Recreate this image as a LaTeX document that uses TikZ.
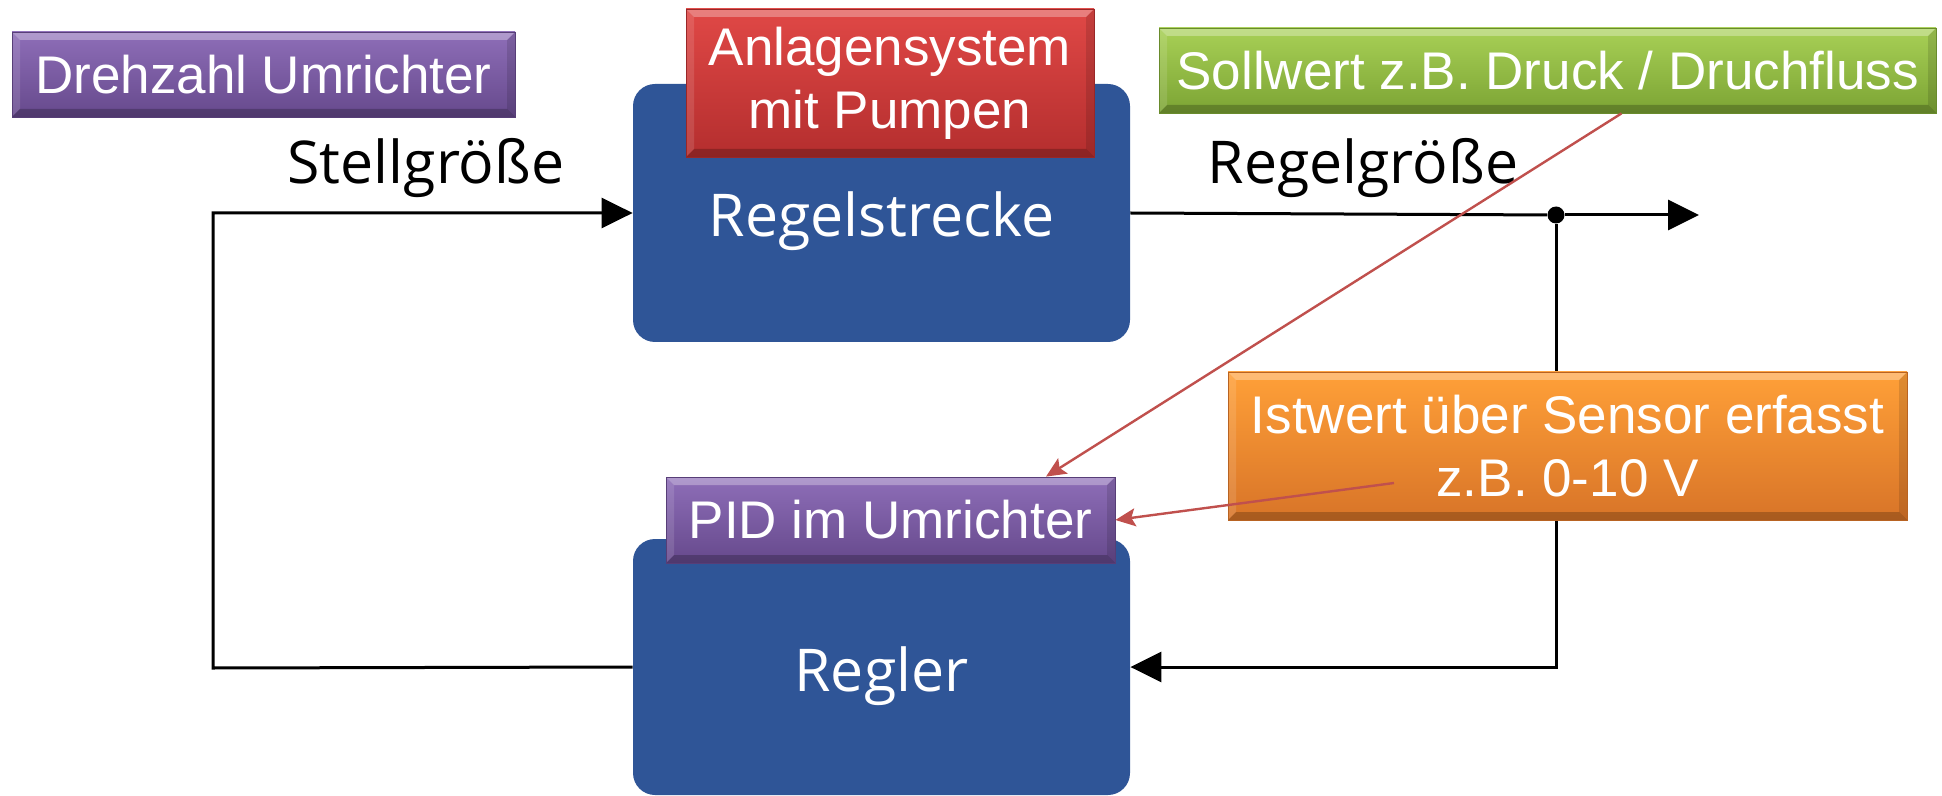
\documentclass[tikz,border=0pt]{standalone}
\usepackage{fontspec}
\setmainfont{Liberation Sans}
\newfontfamily\blockfont{Open Sans}
\usetikzlibrary{arrows.meta,calc}

\definecolor{blockblue}{RGB}{47,85,151}
\definecolor{violetT}{RGB}{142,110,184}
\definecolor{violetB}{RGB}{102,73,140}
\definecolor{redT}{RGB}{224,72,70}
\definecolor{redB}{RGB}{180,46,46}
\definecolor{greenT}{RGB}{168,208,86}
\definecolor{greenB}{RGB}{124,164,52}
\definecolor{orangeT}{RGB}{255,160,56}
\definecolor{orangeB}{RGB}{216,116,40}
\definecolor{calloutred}{RGB}{192,80,77}

\tikzset{
  block/.style={fill=blockblue, rounded corners=11pt, inner sep=0pt,
    minimum width=248.5pt, text=white, text height=24pt, text depth=0pt,
    font=\blockfont\fontsize{29.5}{34}\selectfont},
  plainlabel/.style={inner sep=0pt, anchor=base,
    font=\blockfont\fontsize{29.5}{34}\selectfont},
  % bevelled label box: light upper rim, darker lower rim
  tag/.style 2 args={top color=#1, bottom color=#2, draw=#2!85!black,
    line width=0.4pt, inner sep=0pt, text=white, align=center,
    font=\fontsize{26.5}{31.5}\selectfont,
    path picture={
      \coordinate (tl) at (path picture bounding box.north west);
      \coordinate (br) at (path picture bounding box.south east);
      \coordinate (tr) at (br |- tl);
      \coordinate (bl) at (tl |- br);
      \fill[white,opacity=0.30] (tl) -- (tr) -- ([shift={(-4pt,-4pt)}]tr)
        -- ([shift={(4pt,-4pt)}]tl) -- cycle;
      \fill[white,opacity=0.12] (tl) -- ([shift={(4pt,-4pt)}]tl)
        -- ([shift={(4pt,4pt)}]bl) -- (bl) -- cycle;
      \fill[black,opacity=0.12] (tr) -- ([shift={(-4pt,-4pt)}]tr)
        -- ([shift={(-4pt,4pt)}]br) -- (br) -- cycle;
      \fill[black,opacity=0.22] (bl) -- ([shift={(4pt,4pt)}]bl)
        -- ([shift={(-4pt,4pt)}]br) -- (br) -- cycle;
    }},
  flow/.style={line width=1.5pt, -{Triangle[length=15.5pt,width=15pt]}},
  wire/.style={line width=1.5pt},
  callout/.style={draw=calloutred, line width=1.2pt,
    -{Stealth[length=10pt,width=9pt,inset=2pt]}},
}

\begin{document}
\begin{tikzpicture}[x=0.5pt,y=-0.5pt]
\useasboundingbox (0,0) rectangle (1942,796);

% main blocks
\node[block, minimum height=129pt] (strk) at (881.5,213) {Regelstrecke};
\node[block, minimum height=128pt] (regl) at (881.5,667) {Regler};

% signal labels
\node[plainlabel] (stell) at (426,184) {Stellgröße};
\node[plainlabel] (regelg) at (1363,184) {Regelgröße};

% branch point and output end
\node[circle, fill=black, inner sep=0pt, minimum size=8.5pt] (tap) at (1556,215) {};
\coordinate (out) at (1699,215);
\coordinate (lc) at (213,668);

% control loop
\draw[flow] (regl.west) -- (lc) |- (strk.west);
\draw[wire] (strk.east) -- (tap);
\draw[flow] (tap) -- (out);
\draw[flow] (tap) |- (regl.east);

% annotation boxes
\node[tag={violetT}{violetB}, minimum width=251.5pt, minimum height=42.5pt]
  (drehz) at (263.5,74.5) {Drehzahl Umrichter};
\node[tag={redT}{redB}, minimum width=204pt, minimum height=74pt]
  (anlage) at (890,83) {Anlagensystem\\mit Pumpen};
\node[tag={greenT}{greenB}, minimum width=388.5pt, minimum height=42.5pt]
  (sollw) at (1547.5,70.5) {Sollwert z.B. Druck / Druchfluss};
\node[tag={orangeT}{orangeB}, minimum width=339.5pt, minimum height=74pt]
  (istw) at (1567.5,446) {Istwert über Sensor erfasst\\z.B. 0-10 V};
\node[tag={violetT}{violetB}, minimum width=224.5pt, minimum height=43pt]
  (pid) at (890.5,520) {PID im Umrichter};

% callout arrows
\draw[callout] ([xshift=37pt]sollw.south) -- ([xshift=77.75pt]pid.north);
\draw[callout] ([shift={(-86.75pt,-18.5pt)}]istw.center) -- (pid.east);
\end{tikzpicture}
\end{document}
